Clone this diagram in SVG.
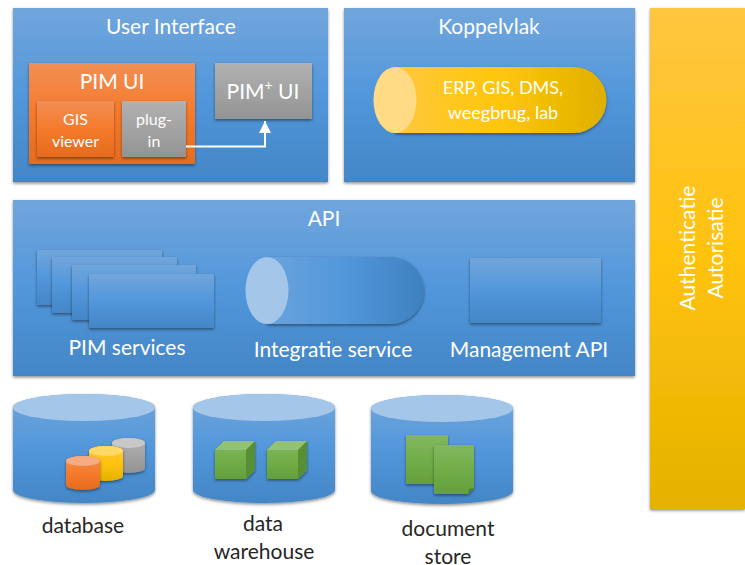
<svg xmlns="http://www.w3.org/2000/svg" width="745" height="565" viewBox="0 0 745 565">
<defs>
<linearGradient id="blue" x1="0" y1="0" x2="0" y2="1"><stop offset="0" stop-color="#71a6dc"/><stop offset="0.5" stop-color="#5297db"/><stop offset="1" stop-color="#4386c6"/></linearGradient>
<linearGradient id="orange" x1="0" y1="0" x2="0" y2="1"><stop offset="0" stop-color="#f28f55"/><stop offset="0.5" stop-color="#f57a2c"/><stop offset="1" stop-color="#e46c1e"/></linearGradient>
<linearGradient id="grey" x1="0" y1="0" x2="0" y2="1"><stop offset="0" stop-color="#b1b1b1"/><stop offset="0.5" stop-color="#a3a3a3"/><stop offset="1" stop-color="#939393"/></linearGradient>
<linearGradient id="gold" x1="0" y1="0" x2="0" y2="1"><stop offset="0" stop-color="#ffc640"/><stop offset="0.5" stop-color="#ffc20e"/><stop offset="1" stop-color="#e5b200"/></linearGradient>
<linearGradient id="green" x1="0" y1="0" x2="0" y2="1"><stop offset="0" stop-color="#82b760"/><stop offset="0.5" stop-color="#71ae48"/><stop offset="1" stop-color="#649f3c"/></linearGradient>
<linearGradient id="goldH" x1="0" y1="0" x2="1" y2="0"><stop offset="0" stop-color="#ffc83d"/><stop offset="0.5" stop-color="#ffc60a"/><stop offset="1" stop-color="#e0b000"/></linearGradient>
<linearGradient id="blueH" x1="0" y1="0" x2="1" y2="0"><stop offset="0" stop-color="#6aa3dc"/><stop offset="0.5" stop-color="#5297db"/><stop offset="1" stop-color="#3f80bf"/></linearGradient>
<filter id="sh" x="-10%" y="-10%" width="120%" height="125%"><feDropShadow dx="0" dy="1.5" stdDeviation="1.5" flood-color="#000" flood-opacity="0.45"/></filter>
<marker id="arrow" markerUnits="userSpaceOnUse" markerWidth="13" markerHeight="12" refX="12" refY="6" orient="auto"><path d="M0 0L12 6L0 12Z" fill="#fff"/></marker>
</defs>
<style>
text{font-family:"Lato","Open Sans","Liberation Sans",sans-serif;text-anchor:middle;fill:#fff}
.t{font-size:21px}
.m{font-size:18px}
.s{font-size:16px}
.k{fill:#262626;font-size:21px}
.box{filter:url(#sh);fill:url(#blue)}
.top{fill:#a4c6e8}
</style>
<rect width="745" height="565" fill="#fff"/>

<g id="user-interface">
<rect class="box" x="13" y="8" width="315" height="174"/>
<text class="t" x="171" y="34">User Interface</text>
</g>
<g id="pim-ui">
<rect x="29" y="63" width="166" height="101" fill="url(#orange)" filter="url(#sh)"/>
<text class="t" x="112" y="89">PIM UI</text>
</g>
<g id="gis-viewer">
<rect x="37" y="101" width="77" height="56" fill="url(#orange)" filter="url(#sh)"/>
<text class="s" x="75.500" y="125">GIS</text>
<text class="s" x="75.500" y="147">viewer</text>
</g>
<g id="plug-in">
<rect x="122" y="101" width="64" height="56" fill="url(#grey)" filter="url(#sh)"/>
<text class="s" x="154" y="125">plug-</text>
<text class="s" x="154" y="147">in</text>
</g>
<g id="pim-plus-ui">
<rect x="215" y="63" width="97" height="56" fill="url(#grey)" filter="url(#sh)"/>
<text class="t" x="263" y="99">PIM<tspan font-size="14" dy="-9">+</tspan><tspan dy="9"> UI</tspan></text>
</g>

<g id="koppelvlak">
<rect class="box" x="344" y="8" width="291" height="174"/>
<text class="t" x="489" y="34">Koppelvlak</text>
</g>
<g id="erp-cylinder">
<path d="M395 67H573.500A33 33 0 0 1 573.500 133H395Z" fill="url(#goldH)" filter="url(#sh)"/>
<ellipse cx="395" cy="100" rx="21.500" ry="33" fill="#ffdb85"/>
<text class="m" x="503" y="94">ERP, GIS, DMS,</text>
<text class="m" x="503" y="119">weegbrug, lab</text>
</g>

<g id="auth">
<rect x="650" y="8" width="95" height="501" fill="url(#gold)" filter="url(#sh)"/>
<text class="t" transform="translate(695 248) rotate(-90)">Authenticatie</text>
<text class="t" transform="translate(723 248) rotate(-90)">Autorisatie</text>
</g>

<g id="api">
<rect class="box" x="13" y="200" width="622" height="176"/>
<text class="t" x="324" y="226">API</text>
</g>
<g id="pim-services">
<rect x="37" y="250" width="125" height="55" fill="url(#blue)" filter="url(#sh)"/>
<rect x="52" y="257" width="125" height="56" fill="url(#blue)" filter="url(#sh)"/>
<rect x="72" y="265" width="124" height="55" fill="url(#blue)" filter="url(#sh)"/>
<rect x="89" y="274" width="125" height="54" fill="url(#blue)" filter="url(#sh)"/>
<text class="t" x="127" y="355">PIM services</text>
</g>
<g id="integratie-service">
<path d="M267 257H390.500A33.500 33.500 0 0 1 390.500 324H267Z" fill="url(#blueH)" filter="url(#sh)"/>
<ellipse cx="267" cy="290.500" rx="21.500" ry="33.500" fill="#a4c6e8"/>
<text class="t" x="333" y="357">Integratie service</text>
</g>
<g id="management-api">
<rect x="470" y="258" width="131" height="65" fill="url(#blue)" filter="url(#sh)"/>
<text class="t" x="529" y="357">Management API</text>
</g>

<g id="database">
<path d="M13 407.500A71 13.500 0 0 1 155 407.500V490A71 13 0 0 1 13 490Z" fill="url(#blue)" filter="url(#sh)"/>
<ellipse class="top" cx="84" cy="407.500" rx="71" ry="13.500"/>
<g filter="url(#sh)">
<path d="M112 443A16.500 5 0 0 1 145 443V468A16.500 5 0 0 1 112 468Z" fill="url(#grey)"/>
<ellipse cx="128.500" cy="443" rx="16.500" ry="5" fill="#c8c8c8"/>
</g>
<g filter="url(#sh)">
<path d="M89 451A17 5 0 0 1 123 451V476A17 5 0 0 1 89 476Z" fill="url(#gold)"/>
<ellipse cx="106" cy="451" rx="17" ry="5" fill="#ffd966"/>
</g>
<g filter="url(#sh)">
<path d="M66 461A17 5 0 0 1 100 461V485A17 5 0 0 1 66 485Z" fill="url(#orange)"/>
<ellipse cx="83" cy="461" rx="17" ry="5" fill="#f6ab80"/>
</g>
<text class="k" x="83" y="533">database</text>
</g>

<g id="data-warehouse">
<path d="M193 407.500A71 13.500 0 0 1 335 407.500V490A71 13 0 0 1 193 490Z" fill="url(#blue)" filter="url(#sh)"/>
<ellipse class="top" cx="264" cy="407.500" rx="71" ry="13.500"/>
<g filter="url(#sh)">
<path d="M215 450L224 441H255V470L246 479H215Z" fill="url(#green)"/>
<path d="M215 450L224 441H255L246 450Z" fill="#93c177"/>
<path d="M246 450L255 441V470L246 479Z" fill="#578f34"/>
</g>
<g filter="url(#sh)">
<path d="M267 450L276 441H307V470L298 479H267Z" fill="url(#green)"/>
<path d="M267 450L276 441H307L298 450Z" fill="#93c177"/>
<path d="M298 450L307 441V470L298 479Z" fill="#578f34"/>
</g>
<text class="k" x="263" y="531">data</text>
<text class="k" x="264" y="559">warehouse</text>
</g>

<g id="document-store">
<path d="M371 408.500A71 13.500 0 0 1 513 408.500V491A71 13 0 0 1 371 491Z" fill="url(#blue)" filter="url(#sh)"/>
<ellipse class="top" cx="442" cy="408.500" rx="71" ry="13.500"/>
<rect x="406" y="435" width="42" height="49" fill="url(#green)" filter="url(#sh)"/>
<path d="M434 445H474V488L468 494H434Z" fill="url(#green)" filter="url(#sh)"/>
<path d="M468 494L469 489L474 488Z" fill="#4f7f30"/>
<text class="k" x="448" y="536">document</text>
<text class="k" x="448" y="564">store</text>
</g>

<g id="connectors">
<path d="M186 146.500H265V121" fill="none" stroke="#fff" stroke-width="2" marker-end="url(#arrow)"/>
</g>
</svg>
